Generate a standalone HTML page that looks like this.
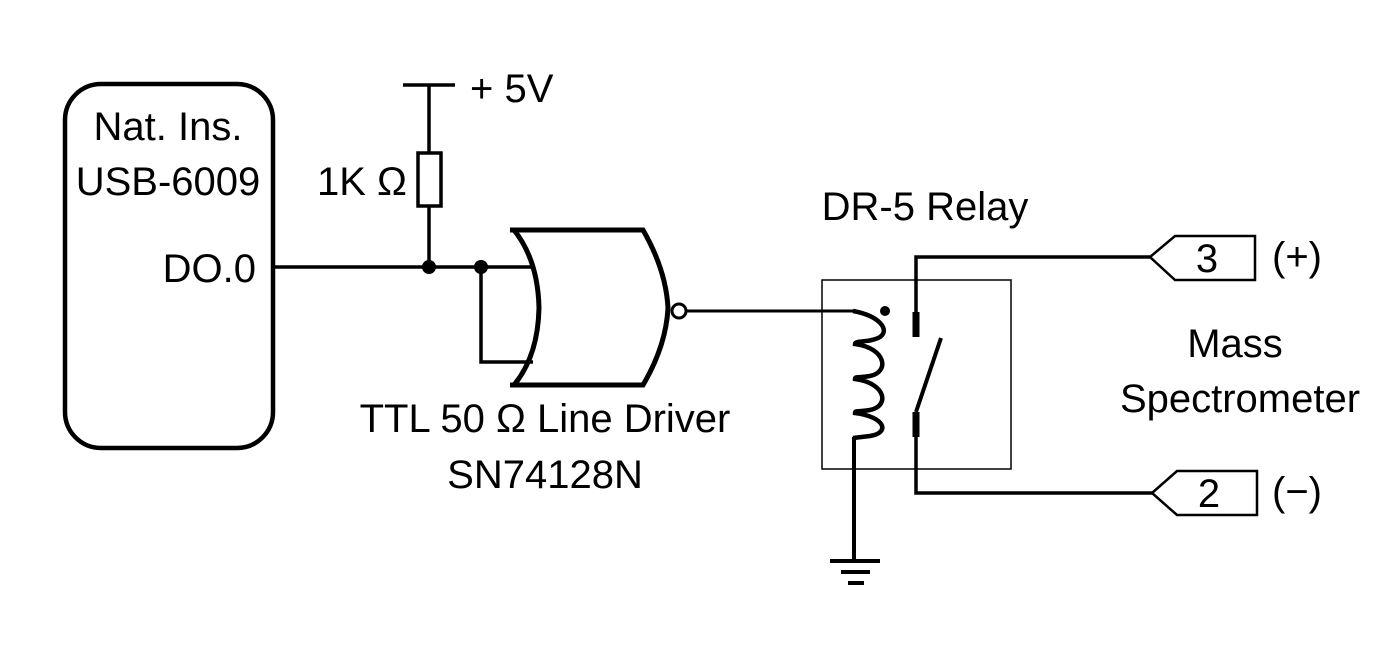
<!DOCTYPE html>
<html><head><meta charset="utf-8"><style>
html,body{margin:0;padding:0;background:#fff}
svg{display:block}
text{font-family:"Liberation Sans",sans-serif;font-size:40px;fill:#000}
</style></head><body>
<svg width="1400" height="662" viewBox="0 0 1400 662" xmlns="http://www.w3.org/2000/svg">
<rect x="65" y="84" width="208" height="364" rx="36" fill="none" stroke="#000" stroke-width="4.5"/>
<text x="168" y="140" text-anchor="middle">Nat. Ins.</text>
<text x="168" y="195" text-anchor="middle">USB-6009</text>
<text x="256" y="282" text-anchor="end">DO.0</text>
<g stroke="#000" fill="none" stroke-width="3.5">
<line x1="273" y1="267" x2="532" y2="267"/>
<line x1="403" y1="85" x2="455" y2="85"/>
<line x1="429" y1="85" x2="429" y2="153"/>
<rect x="418" y="153" width="23" height="53"/>
<line x1="429" y1="206" x2="429" y2="267"/>
<polyline points="481,267 481,362 533,362"/>
<path d="M510,230 L643,230 Q666,270 668,308 Q666,346 643,385 L510,385 M514,230 Q538,260 539,308 Q538,356 514,385" stroke-width="5"/>
<circle cx="679" cy="311" r="7" stroke-width="3"/>
<line x1="686" y1="311" x2="855" y2="311" stroke-width="3"/>
<path d="M853,311 C880,316 890,330 880,337 C870,343 855,340 855,344 C886,348 890,372 870,376 C860,378 855,376 855,379 C886,383 890,406 870,410 C860,412 855,410 855,413 C886,417 890,433 870,436 L853,438" stroke-width="4.5"/>
<line x1="854" y1="437" x2="854" y2="561" stroke-width="4"/>
<line x1="830" y1="561" x2="880" y2="561" stroke-width="4"/>
<line x1="841" y1="572" x2="870" y2="572" stroke-width="4"/>
<line x1="848" y1="583" x2="864" y2="583" stroke-width="4"/>
<polyline points="916,312 916,257 1150,257"/>
<polyline points="916,437 916,493 1152,493"/>
<line x1="916" y1="312" x2="916" y2="337" stroke-width="7"/>
<line x1="916" y1="412" x2="916" y2="437" stroke-width="7"/>
<line x1="916" y1="412" x2="941" y2="338" stroke-width="4"/>
<polygon points="1150,257 1175,236 1255,236 1255,280 1175,280" stroke-width="2.5" fill="#fff"/>
<polygon points="1152,493 1177,471 1257,471 1257,515 1177,515" stroke-width="2.5" fill="#fff"/>
</g>
<rect x="822" y="280" width="189" height="189" fill="none" stroke="#000" stroke-width="1.5"/>
<circle cx="429" cy="267" r="7"/>
<circle cx="481" cy="267" r="7"/>
<circle cx="885" cy="311" r="5"/>
<text x="470" y="102">+ 5V</text>
<text x="317" y="195">1K Ω</text>
<text x="545" y="432" text-anchor="middle">TTL 50 Ω Line Driver</text>
<text x="545" y="488" text-anchor="middle">SN74128N</text>
<text x="925" y="220" text-anchor="middle">DR-5 Relay</text>
<text x="1207" y="272" text-anchor="middle">3</text>
<text x="1209" y="507" text-anchor="middle">2</text>
<text x="1272" y="270">(+)</text>
<text x="1272" y="505">(−)</text>
<text x="1235" y="357" text-anchor="middle">Mass</text>
<text x="1240" y="412" text-anchor="middle">Spectrometer</text>
</svg>
</body></html>
